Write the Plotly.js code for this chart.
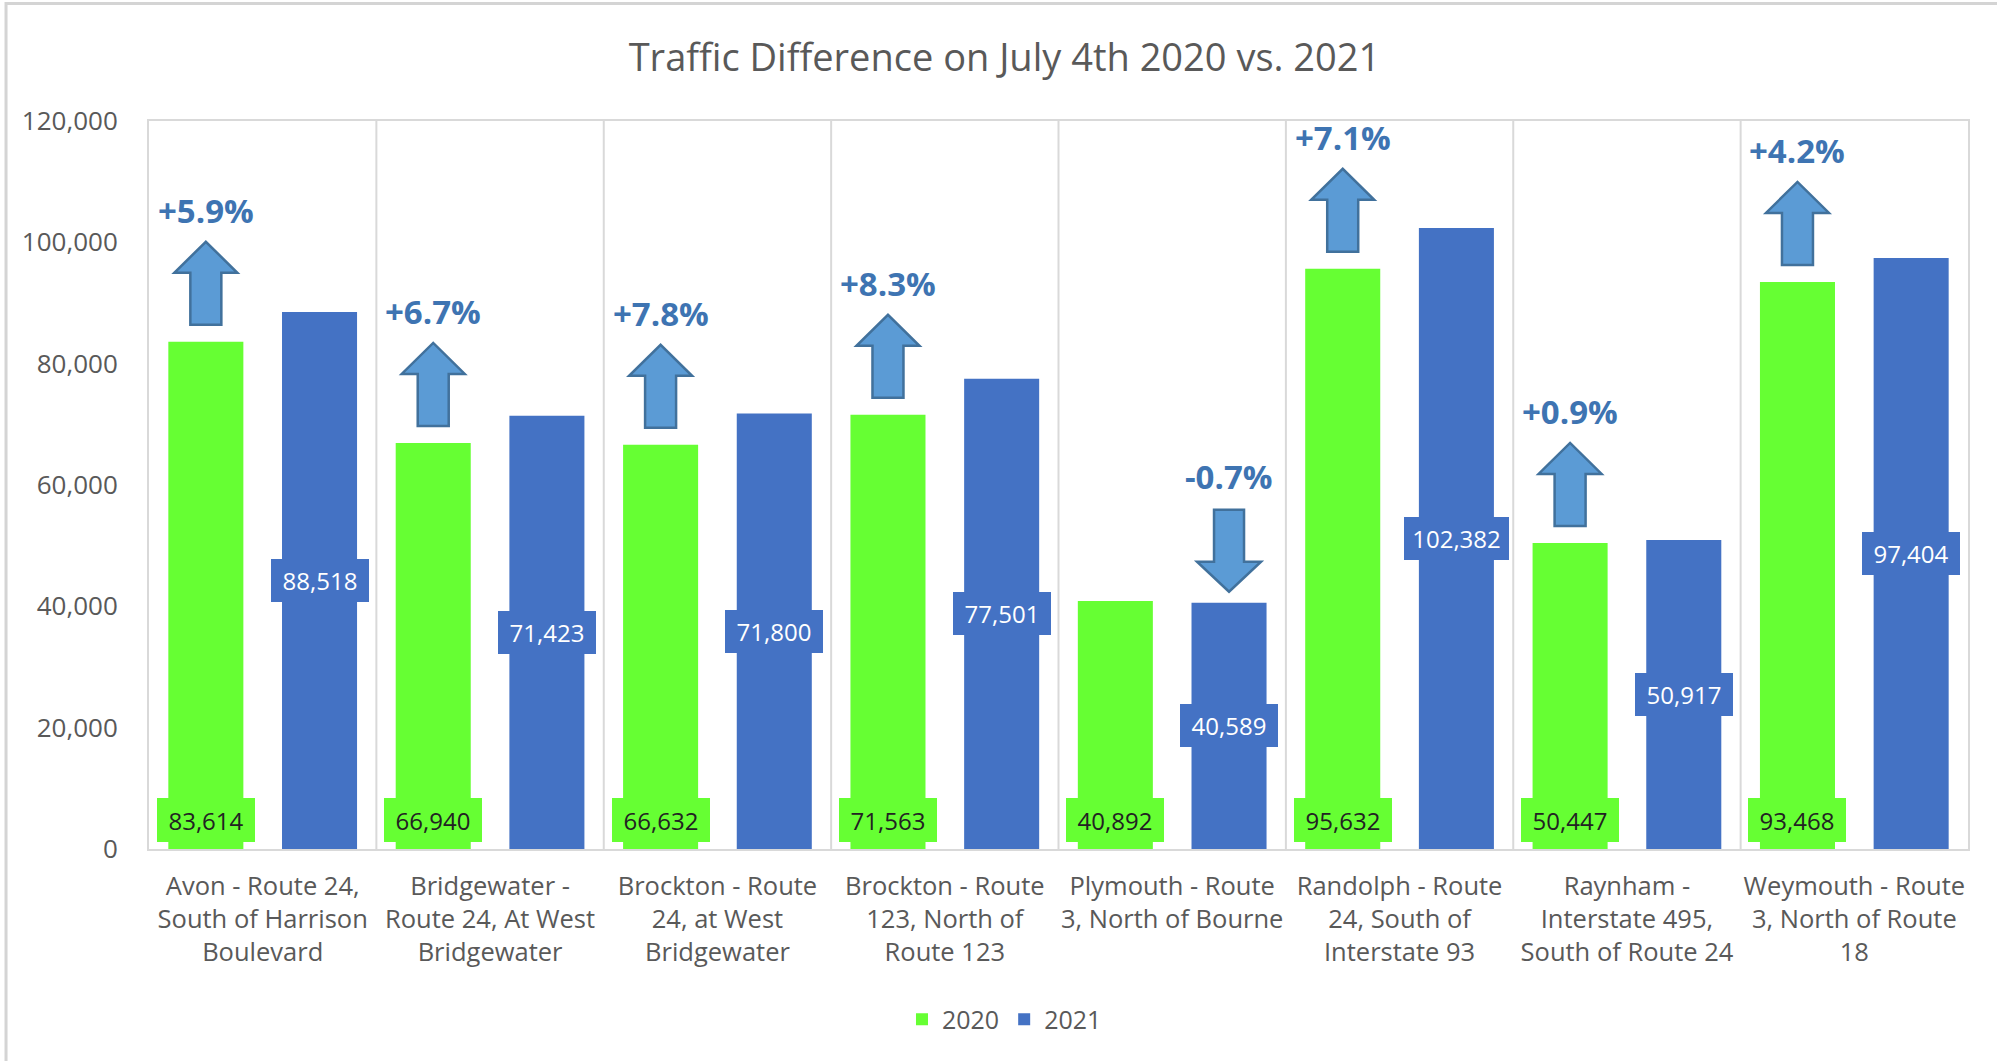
<!DOCTYPE html>
<html>
<head>
<meta charset="utf-8">
<script src="https://cdn.plot.ly/plotly-3.0.1.min.js"></script>
<style>html,body{margin:0;padding:0;background:#fff;}#chart{width:1997px;height:1061px;}</style>
</head>
<body>
<div id="chart"></div>
<script>
// ---- data ----
const categories = [
  "Avon - Route 24,<br>South of Harrison<br>Boulevard",
  "Bridgewater -<br>Route 24, At West<br>Bridgewater",
  "Brockton - Route<br>24, at West<br>Bridgewater",
  "Brockton - Route<br>123, North of<br>Route 123",
  "Plymouth - Route<br>3, North of Bourne",
  "Randolph - Route<br>24, South of<br>Interstate 93",
  "Raynham -<br>Interstate 495,<br>South of Route 24",
  "Weymouth - Route<br>3, North of Route<br>18"
];
const values2020 = [83614, 66940, 66632, 71563, 40892, 95632, 50447, 93468];
const values2021 = [88518, 71423, 71800, 77501, 40589, 102382, 50917, 97404];
const seriesNames = ["2020", "2021"];
const yTickValues = [0, 20000, 40000, 60000, 80000, 100000, 120000];

// ---- styling ----
const GREEN = "#66ff33";
const BLUE = "#4472c4";
const ARROW_FILL = "#5b9bd5";
const ARROW_LINE = "#41719c";
const PCT_COLOR = "#3e74b2";
const TEXT_GRAY = "#595959";
const GRID = "#d9d9d9";
const FONT = "Open Sans, sans-serif";

const idx = categories.map((_, i) => i);
const fmt = v => v.toLocaleString("en-US");

const traces = [
  {type: "bar", name: seriesNames[0], x: idx, y: values2020, marker: {color: GREEN}, hoverinfo: "skip"},
  {type: "bar", name: seriesNames[1], x: idx, y: values2021, marker: {color: BLUE}, hoverinfo: "skip"}
];

const annotations = [];
const shapes = [];

// outer chart frame (left + top)
shapes.push({type: "path", xref: "paper", yref: "paper", layer: "above",
  path: "M-0.0786,-0.4 L-0.0786,1.1615 L1.05,1.1615",
  line: {color: "#d4d4d4", width: 3}});

// category divider lines
for (let i = 0; i < categories.length - 1; i++) {
  shapes.push({type: "line", xref: "x", yref: "paper", x0: i + 0.5, x1: i + 0.5, y0: 0, y1: 1,
    layer: "below", line: {color: GRID, width: 2}});
}

const labelWidth = s => 7 * s.length + 42;

idx.forEach(i => {
  const a = values2020[i], b = values2021[i];
  const t2020 = fmt(a), t2021 = fmt(b);
  // 2020 value label at base
  annotations.push({x: i - 0.25, y: 0, xref: "x", yref: "y", yanchor: "bottom", yshift: 7,
    text: t2020, showarrow: false, bgcolor: GREEN, borderpad: 6, borderwidth: 1, bordercolor: GREEN,
    width: labelWidth(t2020), height: 30,
    font: {family: FONT, size: 24, color: "#222222"}});
  // 2021 value label at middle
  annotations.push({x: i + 0.25, y: b / 2, xref: "x", yref: "y", yanchor: "middle",
    text: t2021, showarrow: false, bgcolor: BLUE, borderpad: 6, borderwidth: 1, bordercolor: BLUE,
    width: labelWidth(t2021), height: 29,
    font: {family: FONT, size: 24, color: "#ffffff"}});
  // percent change
  const pct = (b - a) / a * 100;
  const up = pct >= 0;
  const pctText = (up ? "+" : "-") + Math.abs(pct).toFixed(1) + "%";
  const ax = up ? i - 0.25 : i + 0.25;
  const ay = up ? a : b;
  annotations.push({x: ax, y: ay, xref: "x", yref: "y", yanchor: "middle", yshift: up ? 131 : 126,
    text: "<b>" + pctText + "</b>", showarrow: false,
    font: {family: FONT, size: 33, color: PCT_COLOR}});
  shapes.push({type: "path", xref: "x", yref: "y", xsizemode: "pixel", ysizemode: "pixel",
    xanchor: ax, yanchor: ay, layer: "above",
    path: up ? "M-15.5,17 L15.5,17 L15.5,69 L31.5,69 L0,100 L-31.5,69 L-15.5,69 Z"
             : "M-15,93 L15,93 L15,41 L32,41 L0,11 L-32,41 L-15,41 Z",
    fillcolor: ARROW_FILL, line: {color: ARROW_LINE, width: 2.5}});
});

const layout = {
  width: 1997, height: 1061,
  paper_bgcolor: "#ffffff", plot_bgcolor: "#ffffff",
  margin: {l: 149, r: 29, t: 121, b: 212, pad: 0},
  font: {family: FONT, color: TEXT_GRAY},
  title: {text: "Traffic Difference on July 4th 2020 vs. 2021", x: 0.503, xref: "container", xanchor: "center",
    y: 0.946, yref: "container", yanchor: "middle",
    font: {family: FONT, size: 38, color: TEXT_GRAY}},
  barmode: "group", bargap: 0, bargroupgap: 0.34,
  xaxis: {range: [-0.5, categories.length - 0.5], tickvals: idx, ticktext: categories,
    showgrid: false, zeroline: false, showline: true, mirror: true, linecolor: GRID, linewidth: 2,
    ticks: "", ticklabelstandoff: 13, tickangle: 0,
    tickfont: {family: FONT, size: 25.5, color: TEXT_GRAY}, fixedrange: true},
  yaxis: {range: [0, 120000], tickvals: yTickValues, tickformat: ",d",
    showgrid: false, zeroline: false, showline: true, mirror: true, linecolor: GRID, linewidth: 2,
    ticks: "", ticklabelstandoff: 24,
    tickfont: {family: FONT, size: 26, color: TEXT_GRAY}, fixedrange: true},
  legend: {orientation: "h", xref: "container", yref: "container", x: 0.503, xanchor: "center",
    y: 0.039, yanchor: "middle", font: {family: FONT, size: 25, color: TEXT_GRAY},
    itemwidth: 30, traceorder: "normal"},
  annotations: annotations,
  shapes: shapes
};

Plotly.newPlot("chart", traces, layout, {displayModeBar: false, staticPlot: true});
</script>
</body>
</html>
